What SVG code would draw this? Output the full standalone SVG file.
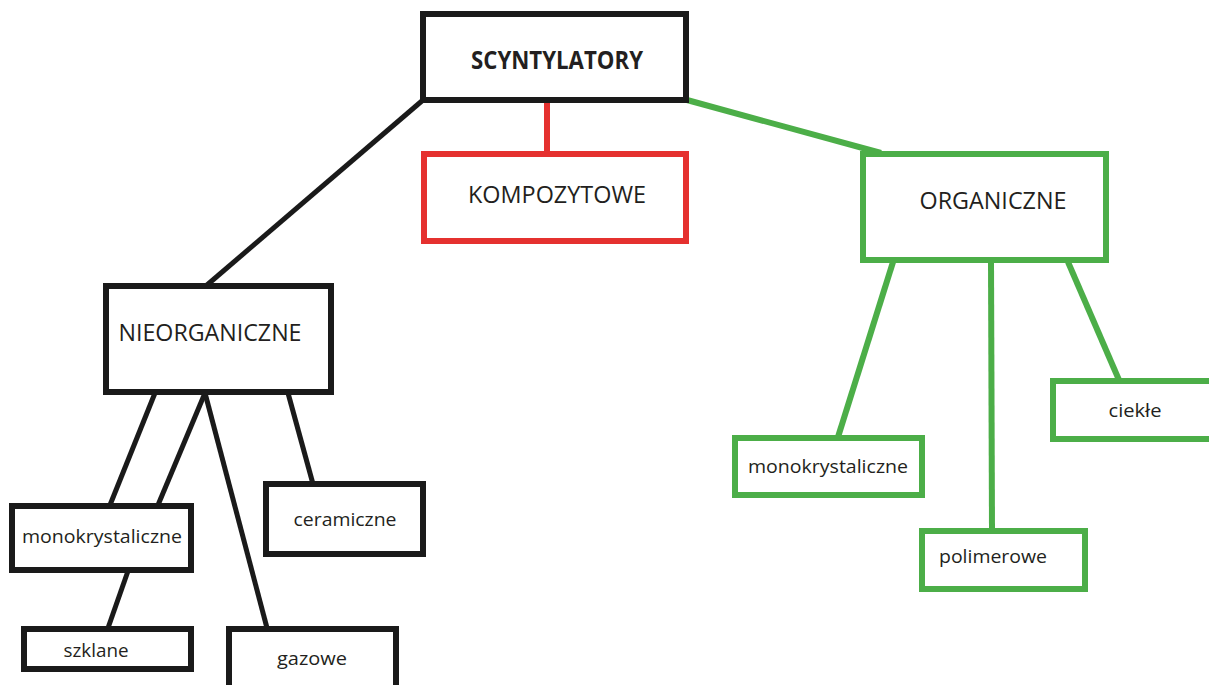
<svg xmlns="http://www.w3.org/2000/svg" width="1209" height="685" viewBox="0 0 1209 685">
<style>
.k{fill:#fff;stroke:#1a1a1a;stroke-width:6}
.g{fill:#fff;stroke:#4cae48;stroke-width:6}
.r{fill:#fff;stroke:#e5312f;stroke-width:6}
.lk{stroke:#1a1a1a;stroke-width:5;fill:none}
.lg{stroke:#4cae48;stroke-width:6;fill:none}
.lr{stroke:#e5312f;stroke-width:6;fill:none}
text{font-family:"Open Sans","Liberation Sans",sans-serif;fill:#231f20}
.big{font-size:23.5px}
.sm{font-size:18.5px}
</style>
<rect width="1209" height="685" fill="#fff"/>
<g id="connectors">
<line class="lk" x1="423" y1="100" x2="207" y2="285"/>
<line class="lr" x1="547" y1="100" x2="547" y2="154"/>
<line class="lg" x1="687" y1="100" x2="881" y2="153"/>
<line class="lg" x1="893" y1="262" x2="838" y2="437"/>
<line class="lg" x1="991" y1="262" x2="992" y2="530"/>
<line class="lg" x1="1068" y1="262" x2="1119" y2="380"/>
<line class="lk" x1="155" y1="393" x2="110" y2="505"/>
<line class="lk" x1="205" y1="393" x2="158" y2="505"/>
<line class="lk" x1="205" y1="393" x2="267" y2="628"/>
<line class="lk" x1="288" y1="393" x2="313" y2="484"/>
<line class="lk" x1="128" y1="571" x2="108" y2="628"/>
</g>
<g id="scyntylatory">
<rect class="k" x="423" y="14" width="263" height="86"/>
<text x="557" y="69" text-anchor="middle" font-weight="bold" font-size="25" textLength="172" lengthAdjust="spacingAndGlyphs">SCYNTYLATORY</text>
</g>
<g id="kompozytowe">
<rect class="r" x="424" y="154" width="262" height="87"/>
<text class="big" x="557" y="203" text-anchor="middle" textLength="178" lengthAdjust="spacingAndGlyphs">KOMPOZYTOWE</text>
</g>
<g id="organiczne">
<rect class="g" x="863" y="154" width="243" height="106"/>
<text class="big" x="993" y="209" text-anchor="middle" textLength="147" lengthAdjust="spacingAndGlyphs">ORGANICZNE</text>
</g>
<g id="nieorganiczne">
<rect class="k" x="106" y="286" width="225" height="106"/>
<text x="210" y="341" text-anchor="middle" font-size="24" textLength="183" lengthAdjust="spacingAndGlyphs">NIEORGANICZNE</text>
</g>
<g id="monokrystaliczne-n">
<rect class="k" x="12" y="506" width="179" height="64"/>
<text class="sm" x="102" y="543" text-anchor="middle" textLength="160" lengthAdjust="spacingAndGlyphs">monokrystaliczne</text>
</g>
<g id="ceramiczne">
<rect class="k" x="266" y="484" width="157" height="70"/>
<text class="sm" x="345" y="526" text-anchor="middle" textLength="103" lengthAdjust="spacingAndGlyphs">ceramiczne</text>
</g>
<g id="szklane">
<rect class="k" x="24" y="629" width="167" height="40"/>
<text class="sm" x="96" y="657" text-anchor="middle" textLength="65" lengthAdjust="spacingAndGlyphs">szklane</text>
</g>
<g id="gazowe">
<rect class="k" x="229" y="629" width="167" height="70"/>
<text class="sm" x="312" y="665" text-anchor="middle" textLength="70" lengthAdjust="spacingAndGlyphs">gazowe</text>
</g>
<g id="monokrystaliczne-o">
<rect class="g" x="735" y="438" width="187" height="57"/>
<text class="sm" x="828" y="473" text-anchor="middle" textLength="160" lengthAdjust="spacingAndGlyphs">monokrystaliczne</text>
</g>
<g id="polimerowe">
<rect class="g" x="922" y="531" width="163" height="58"/>
<text class="sm" x="939" y="563" textLength="108" lengthAdjust="spacingAndGlyphs">polimerowe</text>
</g>
<g id="ciekle">
<rect class="g" x="1053" y="381" width="175" height="58"/>
<text class="sm" x="1135" y="417" text-anchor="middle" textLength="53" lengthAdjust="spacingAndGlyphs">ciekłe</text>
</g>
</svg>
